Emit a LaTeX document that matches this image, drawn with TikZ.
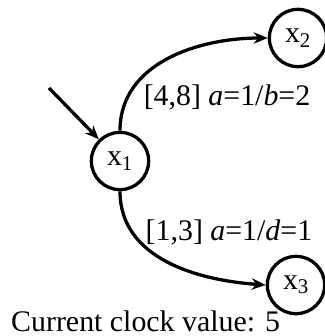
\documentclass[tikz,border=0pt]{standalone}
\usepackage{fontspec}
\setmainfont{Liberation Serif}
\usetikzlibrary{arrows.meta}
\definecolor{AutInk}{HTML}{000000}

\begin{document}
\begin{tikzpicture}[
    x=0.03cm, y=-0.03cm,
    font=\fontsize{25.5}{30}\selectfont,
    state/.style={
        circle,
        draw=AutInk,
        line width=2.8pt,
        minimum size=1.72cm,
        inner sep=0pt,
        text=AutInk
    },
    trans/.style={-{Stealth[length=4.2mm,width=3.4mm]},
                  draw=AutInk, line width=2.8pt},
    guard/.style={inner sep=0pt, text=AutInk}
]
    \useasboundingbox (0,0) rectangle (324,336);

    \node[state] (s1) at (120,161) {x\textsubscript{1}};
    \node[state] (s2) at (298,38) {x\textsubscript{2}};
    \node[state] (s3) at (296,285) {x\textsubscript{3}};
    \coordinate (init) at (49,88);

    % initial state
    \draw[trans] (init) -- (s1);

    % timed transitions
    \draw[trans] (s1.north) to[out=90, in=180] (s2.west);
    \draw[trans] (s1.south) to[out=-90, in=176] (s3.west);

    \node[guard] (g2) at (227,97) {[4,8] \textit{a}=1/\textit{b}=2};
    \node[guard] (g3) at (229,232) {[1,3] \textit{a}=1/\textit{d}=1};

    \node[anchor=base west, inner sep=0pt, text=AutInk] (clock) at (11,331)
        {Current clock value: 5};
\end{tikzpicture}
\end{document}
